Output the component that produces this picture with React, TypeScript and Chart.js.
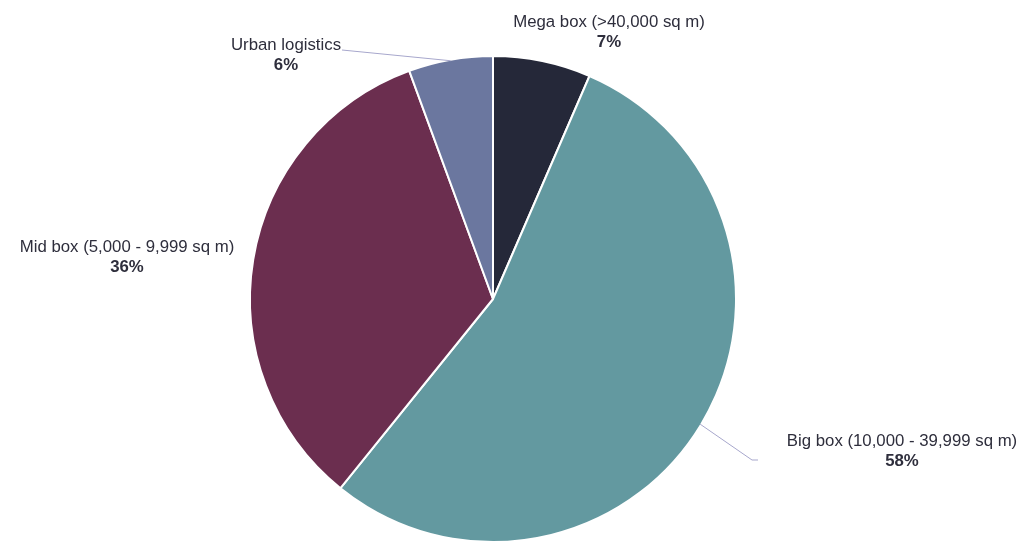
import React, { useEffect, useRef } from "react";
import { Chart, registerables } from "chart.js";

Chart.register(...registerables);

const categories = [
  "Mega box (>40,000 sq m)",
  "Big box (10,000 - 39,999 sq m)",
  "Mid box (5,000 - 9,999 sq m)",
  "Urban logistics",
];
const values = [6.5, 54.3, 33.6, 5.6];
const percentLabels = ["7%", "58%", "36%", "6%"];
const colors = ["#252839", "#6399a0", "#6b2e4f", "#6b779f"];

// label layout: centre x, first-line baseline y, optional connector end point
const labelLayout = [
  { x: 609, y: 27, conn: null as null | number[][] },
  { x: 902, y: 446, conn: [[752, 460], [758, 460]] },
  { x: 127, y: 252, conn: null },
  { x: 286, y: 50, conn: [[342, 50]] },
];

const FONT = '"Liberation Sans", Arial, sans-serif';
const TEXT_COLOR = "#2e2e3c";

const labelPlugin = {
  id: "pieLabels",
  afterDatasetsDraw(chart: any) {
    const ctx = chart.ctx;
    const meta = chart.getDatasetMeta(0);
    ctx.save();
    meta.data.forEach((arc: any, i: number) => {
      const lay = labelLayout[i];
      const { x, y, startAngle, endAngle, outerRadius } = arc.getProps(
        ["x", "y", "startAngle", "endAngle", "outerRadius"],
        true
      );
      if (lay.conn) {
        const mid = (startAngle + endAngle) / 2;
        const r = outerRadius - 1;
        const ax = x + Math.cos(mid) * r;
        const ay = y + Math.sin(mid) * r;
        ctx.beginPath();
        ctx.strokeStyle = "#a7a7cc";
        ctx.lineWidth = 1;
        ctx.moveTo(ax, ay);
        lay.conn.forEach((p) => ctx.lineTo(p[0], p[1]));
        ctx.stroke();
      }
      ctx.fillStyle = TEXT_COLOR;
      ctx.textAlign = "center";
      ctx.textBaseline = "alphabetic";
      ctx.font = `16.8px ${FONT}`;
      ctx.fillText(categories[i], lay.x, lay.y);
      ctx.font = `bold 16.8px ${FONT}`;
      ctx.fillText(percentLabels[i], lay.x, lay.y + 19.5);
    });
    ctx.restore();
  },
};

export default function App() {
  const ref = useRef<HTMLCanvasElement | null>(null);
  useEffect(() => {
    if (!ref.current) return;
    const chart = new Chart(ref.current, {
      type: "pie",
      data: {
        labels: categories,
        datasets: [
          {
            data: values,
            backgroundColor: colors,
            borderColor: "#ffffff",
            borderWidth: 2,
          },
        ],
      },
      options: {
        animation: false,
        responsive: false,
        maintainAspectRatio: false,
        layout: { padding: { top: 55, bottom: 0, left: 0, right: 35 } },
        plugins: {
          legend: { display: false },
          tooltip: { enabled: false },
        },
      },
      plugins: [labelPlugin],
    });
    return () => chart.destroy();
  }, []);
  return (
    <div style={{ position: "fixed", left: 0, top: 0, width: 1021, height: 543, background: "#fff" }}>
      <canvas ref={ref} width={1021} height={543} style={{ width: 1021, height: 543 }} />
    </div>
  );
}
